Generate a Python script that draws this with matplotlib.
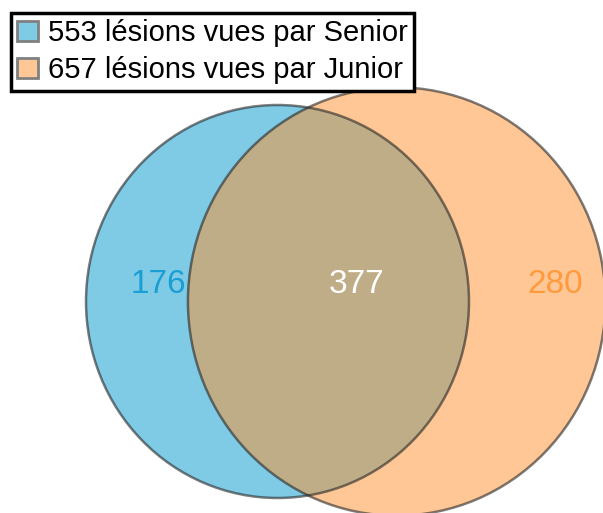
import numpy as np
import matplotlib
matplotlib.use("Agg")
import matplotlib.pyplot as plt
from matplotlib.patches import Ellipse, Patch
from matplotlib.colors import to_rgba

plt.rcParams['font.family'] = ['Liberation Sans', 'DejaVu Sans']

# Venn data
set_labels = ["553 lésions vues par Senior", "657 lésions vues par Junior"]
only_senior = 176
both = 377
only_junior = 280
set_colors = ["#0097cb", "#ff912d"]
label_colors = ["#1a9fd4", "#ff9a3c", "white"]

total_senior = only_senior + both
total_junior = only_junior + both


def overlap_area(d, r1, r2):
    a1 = np.arccos((d**2 + r1**2 - r2**2) / (2 * d * r1))
    a2 = np.arccos((d**2 + r2**2 - r1**2) / (2 * d * r2))
    tri = 0.5 * np.sqrt((-d + r1 + r2) * (d + r1 - r2) * (d - r1 + r2) * (d + r1 + r2))
    return r1**2 * a1 + r2**2 * a2 - tri


# area-proportional circles (bisection on centre distance)
r1 = np.sqrt(total_senior / np.pi)
r2 = np.sqrt(total_junior / np.pi)
lo, hi = abs(r2 - r1) + 1e-6, r1 + r2 - 1e-6
for _ in range(100):
    mid = (lo + hi) / 2
    if overlap_area(mid, r1, r2) > both:
        lo = mid
    else:
        hi = mid
d = (lo + hi) / 2

fig = plt.figure(figsize=(6.03, 5.13), dpi=100)
ax = fig.add_axes([0, 0, 1, 1])
ax.set_axis_off()

# picture is slightly stretched vertically
kx = 191.5 / r1
ky = 196.5 / r1
cx, cy = 277.5, 301.5
ax.set_xlim(-cx / kx, (603 - cx) / kx)
ax.set_ylim(-(513 - cy) / ky, cy / ky)

for (x0, r, col) in [(0, r1, set_colors[0]), (d, r2, set_colors[1])]:
    ax.add_patch(Ellipse((x0, 0), 2 * r, 2 * r, facecolor=col, alpha=0.5, edgecolor='none'))
for (x0, r) in [(0, r1), (d, r2)]:
    ax.add_patch(Ellipse((x0, 0), 2 * r, 2 * r, facecolor='none',
                         edgecolor=(0.15, 0.15, 0.15, 0.6), lw=1.8))

ly = 17 / ky
ax.text(-d, ly, str(only_senior), color=label_colors[0], fontsize=24, ha='center', va='center')
ax.text((357 - cx) / kx, ly, str(both), color=label_colors[2], fontsize=24, ha='center', va='center')
ax.text((555 - cx) / kx, ly, str(only_junior), color=label_colors[1], fontsize=24, ha='center', va='center')

handles = [Patch(facecolor=to_rgba(c, 0.5), edgecolor='#808080', lw=2) for c in set_colors]
leg = fig.legend(handles, set_labels, loc='upper left', bbox_to_anchor=(11 / 603, 1 - 13 / 513),
                 borderaxespad=0, fontsize=21, frameon=True, fancybox=False, framealpha=1,
                 edgecolor='black', handlelength=0.7, handleheight=0.7, handletextpad=0.35,
                 borderpad=0.22, labelspacing=0.3)
leg.get_frame().set_linewidth(2.5)

fig.savefig("out.png", dpi=100)
